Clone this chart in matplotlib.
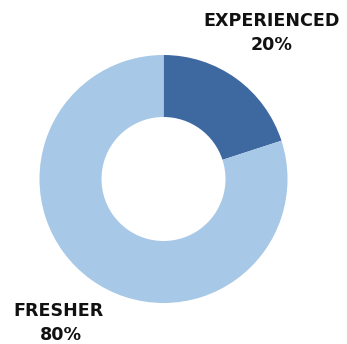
import matplotlib
matplotlib.use("Agg")
import matplotlib.pyplot as plt

categories = ["EXPERIENCED", "FRESHER"]
values = [20, 80]
labels = ["20%", "80%"]
colors = ["#3d69a0", "#a7c8e6"]

W, H = 347, 344
fig = plt.figure(figsize=(W / 100, H / 100), dpi=100)
ax = fig.add_axes([0, 0, 1, 1])
ax.set_xlim(0, W)
ax.set_ylim(0, H)
ax.set_aspect("equal")
ax.axis("off")

ax.pie(values, colors=colors, startangle=90, counterclock=False,
       center=(163.5, H - 179), radius=124,
       wedgeprops=dict(width=62, linewidth=0))
ax.set_xlim(0, W)
ax.set_ylim(0, H)

font = dict(fontweight="heavy", fontsize=12.6, color="#111111", ha="center",
            va="center_baseline", family=["DejaVu Sans"])
ax.text(271.5, H - 19.5, categories[0], **font)
ax.text(271.5, H - 42.5, labels[0], **font)
ax.text(59, H - 309.5, categories[1], **font)
ax.text(61, H - 332.5, labels[1], **font)

fig.savefig("out.png", dpi=100)
